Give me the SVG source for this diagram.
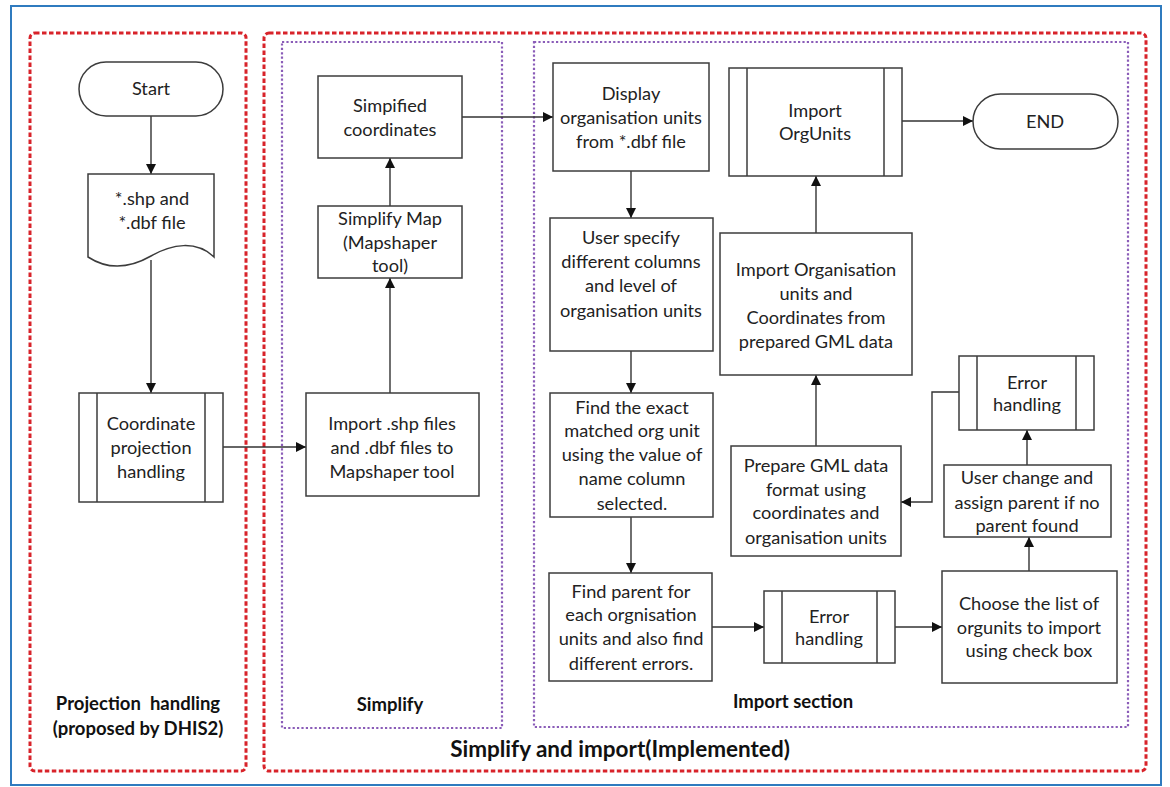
<svg xmlns="http://www.w3.org/2000/svg" width="1170" height="787" viewBox="0 0 1170 787">
  <style>
    .box { fill: #ffffff; stroke: #3c3c3c; stroke-width: 1.5; }
    .sub { fill: none; stroke: #3c3c3c; stroke-width: 1.5; }
    .t { font-family: Lato, "Liberation Sans", sans-serif; font-size: 18.2px; fill: #222222; text-anchor: middle; dominant-baseline: central; }
    .lbl { font-family: Lato, "Liberation Sans", sans-serif; font-size: 18.5px; font-weight: bold; fill: #111111; text-anchor: middle; dominant-baseline: central; }
    .big { font-family: Lato, "Liberation Sans", sans-serif; font-size: 22.5px; font-weight: bold; fill: #111111; text-anchor: middle; dominant-baseline: central; }
    .red { fill: none; stroke: #d8232a; stroke-width: 3; stroke-dasharray: 4.5 2.5; }
    .purple { fill: none; stroke: #8a5cb8; stroke-width: 2.2; stroke-dasharray: 2.2 2.2; }
    .conn { fill: none; stroke: #333333; stroke-width: 1.4; marker-end: url(#arrow); }
  </style>
  <defs>
    <marker id="arrow" viewBox="0 0 10 10" refX="10" refY="5" markerWidth="10" markerHeight="10" markerUnits="userSpaceOnUse" orient="auto">
      <path d="M0,0 L10,5 L0,10 Z" fill="#111111"/>
    </marker>
  </defs>

  <rect x="0" y="0" width="1170" height="787" fill="#ffffff"/>
  <!-- frame -->
  <rect x="11" y="6" width="1150" height="779" fill="none" stroke="#2f7bbf" stroke-width="2"/>

  <!-- swimlane groups -->
  <g id="lanes">
    <rect class="red" x="30" y="33" width="216" height="738" rx="5"/>
    <rect class="red" x="264" y="33" width="882" height="738" rx="5"/>
    <rect class="purple" x="282" y="42" width="220" height="686"/>
    <rect class="purple" x="534" y="42" width="594" height="685"/>
    <text class="lbl" x="138" y="703" xml:space="preserve">Projection  handling</text>
    <text class="lbl" x="138" y="728">(proposed by DHIS2)</text>
    <text class="lbl" x="390" y="704">Simplify</text>
    <text class="lbl" x="793" y="701">Import section</text>
    <text class="big" x="620" y="748">Simplify and import(Implemented)</text>
  </g>

  <!-- connectors -->
  <g id="connectors">
    <path class="conn" d="M151,116 V174"/>
    <path class="conn" d="M151,260 V393"/>
    <path class="conn" d="M223,447 H306"/>
    <path class="conn" d="M390,393 V278"/>
    <path class="conn" d="M390,206 V158"/>
    <path class="conn" d="M462,117 H553"/>
    <path class="conn" d="M631,171 V218"/>
    <path class="conn" d="M631,351 V393"/>
    <path class="conn" d="M631,517 V573"/>
    <path class="conn" d="M712,627 H764"/>
    <path class="conn" d="M895,627 H942"/>
    <path class="conn" d="M1029,571 V537"/>
    <path class="conn" d="M1027,465 V430"/>
    <path class="conn" d="M959,392 H932 V502 H901"/>
    <path class="conn" d="M816,446 V375"/>
    <path class="conn" d="M816,233 V176"/>
    <path class="conn" d="M902,121 H973"/>
  </g>

  <g id="start">
    <rect class="box" x="79" y="62" width="144" height="54" rx="27"/>
    <text class="t" x="151" y="88">Start</text>
  </g>

  <g id="shp-dbf-file">
    <path class="box" d="M88,174 H214 V257 C196,240 172,244 151,256 C130,268 108,270 88,257 Z"/>
    <text class="t" x="152" y="198">*.shp and</text>
    <text class="t" x="152" y="222">*.dbf file</text>
  </g>

  <g id="coordinate-projection">
    <rect class="box" x="79" y="393" width="144" height="109"/>
    <path class="sub" d="M97,393 V502 M205,393 V502"/>
    <text class="t" x="151" y="423">Coordinate</text>
    <text class="t" x="151" y="447">projection</text>
    <text class="t" x="151" y="471">handling</text>
  </g>

  <g id="import-shp">
    <rect class="box" x="306" y="393" width="173" height="103"/>
    <text class="t" x="392" y="423">Import .shp files</text>
    <text class="t" x="392" y="447">and .dbf files to</text>
    <text class="t" x="392" y="471">Mapshaper tool</text>
  </g>

  <g id="simplify-map">
    <rect class="box" x="318" y="206" width="144" height="72"/>
    <text class="t" x="390" y="218">Simplify Map</text>
    <text class="t" x="390" y="242">(Mapshaper</text>
    <text class="t" x="390" y="265">tool)</text>
  </g>

  <g id="simplified-coordinates">
    <rect class="box" x="318" y="76" width="144" height="82"/>
    <text class="t" x="390" y="105">Simpified</text>
    <text class="t" x="390" y="129">coordinates</text>
  </g>

  <g id="display-orgunits">
    <rect class="box" x="553" y="63" width="156" height="108"/>
    <text class="t" x="631" y="93">Display</text>
    <text class="t" x="631" y="117">organisation units</text>
    <text class="t" x="631" y="141">from *.dbf file</text>
  </g>

  <g id="import-orgunits">
    <rect class="box" x="729" y="68" width="173" height="108"/>
    <path class="sub" d="M747,68 V176 M884,68 V176"/>
    <text class="t" x="815" y="110">Import</text>
    <text class="t" x="815" y="133">OrgUnits</text>
  </g>

  <g id="end">
    <rect class="box" x="973" y="94" width="145" height="55" rx="27.5"/>
    <text class="t" x="1045" y="121">END</text>
  </g>

  <g id="user-specify">
    <rect class="box" x="550" y="218" width="163" height="133"/>
    <text class="t" x="631" y="237">User specify</text>
    <text class="t" x="631" y="261">different columns</text>
    <text class="t" x="631" y="285">and level of</text>
    <text class="t" x="631" y="310">organisation units</text>
  </g>

  <g id="find-exact">
    <rect class="box" x="550" y="393" width="163" height="124"/>
    <text class="t" x="632" y="407">Find the exact</text>
    <text class="t" x="632" y="430">matched org unit</text>
    <text class="t" x="632" y="454">using the value of</text>
    <text class="t" x="632" y="478">name column</text>
    <text class="t" x="632" y="503">selected.</text>
  </g>

  <g id="find-parent">
    <rect class="box" x="549" y="573" width="163" height="108"/>
    <text class="t" x="631" y="591">Find parent for</text>
    <text class="t" x="631" y="614">each orgnisation</text>
    <text class="t" x="631" y="638">units and also find</text>
    <text class="t" x="631" y="663">different errors.</text>
  </g>

  <g id="error-handling-1">
    <rect class="box" x="764" y="591" width="131" height="72"/>
    <path class="sub" d="M782,591 V663 M877,591 V663"/>
    <text class="t" x="829" y="616">Error</text>
    <text class="t" x="829" y="638">handling</text>
  </g>

  <g id="choose-list">
    <rect class="box" x="942" y="571" width="175" height="112"/>
    <text class="t" x="1029" y="603">Choose the list of</text>
    <text class="t" x="1029" y="627">orgunits to import</text>
    <text class="t" x="1029" y="650">using check box</text>
  </g>

  <g id="user-change">
    <rect class="box" x="944" y="465" width="167" height="72"/>
    <text class="t" x="1027" y="477">User change and</text>
    <text class="t" x="1027" y="502">assign parent if no</text>
    <text class="t" x="1027" y="525">parent found</text>
  </g>

  <g id="error-handling-2">
    <rect class="box" x="959" y="356" width="135" height="74"/>
    <path class="sub" d="M977,356 V430 M1076,356 V430"/>
    <text class="t" x="1027" y="382">Error</text>
    <text class="t" x="1027" y="404">handling</text>
  </g>

  <g id="prepare-gml">
    <rect class="box" x="731" y="446" width="170" height="110"/>
    <text class="t" x="816" y="465">Prepare GML data</text>
    <text class="t" x="816" y="489">format using</text>
    <text class="t" x="816" y="512">coordinates and</text>
    <text class="t" x="816" y="537">organisation units</text>
  </g>

  <g id="import-org-coords">
    <rect class="box" x="720" y="233" width="192" height="142"/>
    <text class="t" x="816" y="269">Import Organisation</text>
    <text class="t" x="816" y="293">units and</text>
    <text class="t" x="816" y="317">Coordinates from</text>
    <text class="t" x="816" y="341">prepared GML data</text>
  </g>
</svg>
